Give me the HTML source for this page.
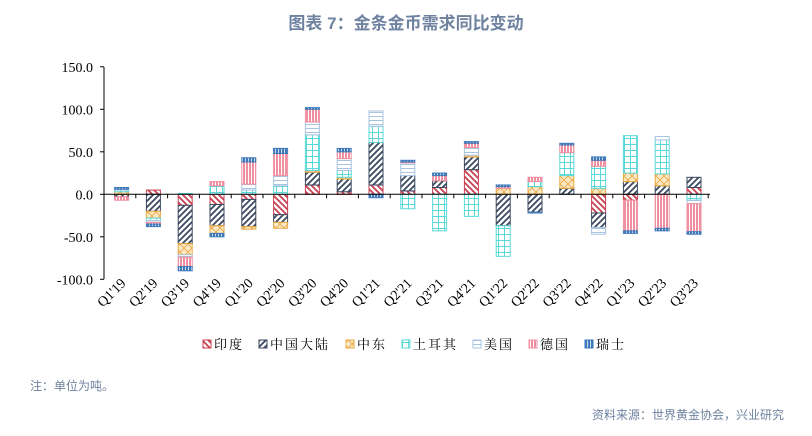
<!DOCTYPE html>
<html><head><meta charset="utf-8"><style>
body{margin:0;background:#fff;width:812px;height:436px;overflow:hidden}
svg{display:block}
</style></head><body>
<svg id="s" width="812" height="436" xmlns="http://www.w3.org/2000/svg">
<defs>
<pattern id="pIN" width="6" height="6" patternUnits="userSpaceOnUse"><rect width="6" height="6" fill="#fff"/><path d="M-1,-1 L7,7 M-4,2 L1,7 M2,-4 L7,1" stroke="#c8404f" stroke-width="1.8"/></pattern>
<pattern id="pCN" width="6" height="6" patternUnits="userSpaceOnUse"><rect width="6" height="6" fill="#fff"/><path d="M-1,7 L7,-1 M-4,4 L1,-1 M5,7 L7,5" stroke="#3a4860" stroke-width="1.8"/></pattern>
<pattern id="pME" width="8" height="8" patternUnits="userSpaceOnUse"><rect width="8" height="8" fill="#fbe9c6"/><path d="M0,0 L8,8 M8,0 L0,8" stroke="#e8a840" stroke-width="0.8"/></pattern>
<pattern id="pTR" width="6" height="6" patternUnits="userSpaceOnUse"><rect width="6" height="6" fill="#fff"/><path d="M0,0.5 H6 M0.5,0 V6" stroke="#5ad8d8" stroke-width="1"/></pattern>
<pattern id="pUS" width="6" height="4" patternUnits="userSpaceOnUse"><rect width="6" height="4" fill="#fff"/><path d="M0,0.5 H6" stroke="#a8c4e0" stroke-width="1"/></pattern>
<pattern id="pDE" width="3" height="6" patternUnits="userSpaceOnUse"><rect width="3" height="6" fill="#f08fa0"/><path d="M2.5,0 V6" stroke="#fff" stroke-width="1"/></pattern>
<pattern id="pSW" width="3" height="6" patternUnits="userSpaceOnUse"><rect width="3" height="6" fill="#3e78b8"/><path d="M2.5,0 V6" stroke="#cfe0f2" stroke-width="1"/></pattern>
</defs>
<text x="406" y="29" text-anchor="middle" font-family="Liberation Sans,Noto Sans CJK SC,sans-serif" font-size="17" font-weight="bold" fill="#6f83a0">图表 7：金条金币需求同比变动</text>
<g id="g"></g>
<text x="30" y="390" font-family="Liberation Sans,Noto Sans CJK SC,sans-serif" font-size="12" fill="#6f83a0">注：单位为吨。</text>
<text x="784" y="419" text-anchor="end" font-family="Liberation Sans,Noto Sans CJK SC,sans-serif" font-size="12" fill="#6f83a0">资料来源：世界黄金协会，兴业研究</text>
</svg>
<script>
var ids=["pIN","pCN","pME","pTR","pUS","pDE","pSW"];
var bc=["#c8404f","#3a4860","#e8a840","#5ad8d8","#a8c4e0","#f08fa0","#3e78b8"];
var names=["印度","中国大陆","中东","土耳其","美国","德国","瑞士"];
var labs=["Q1'19","Q2'19","Q3'19","Q4'19","Q1'20","Q2'20","Q3'20","Q4'20","Q1'21","Q2'21","Q3'21","Q4'21","Q1'22","Q2'22","Q3'22","Q4'22","Q1'23","Q2'23","Q3'23"];
// [IN,CN,ME,TR,US,DE,SW]
var d=[
[0,-3,3,2,1,-4,2],
[5,-20,-8,-3,-2,-2,-3],
[-13,-45,-13,1,-3,-11,-5],
[-12,-25,-9,10,0,5,-4],
[-6,-32,-3,5,7,26,5],
[-24,-9,-7,10,12,26,6],
[11,15,2,42,15,15,2],
[3,15,2,8,14,8,4],
[11,50,0,19,18,0,-4],
[4,18,0,-17,15,1,2],
[8,8,0,-43,0,6,3],
[29,15,2,-26,9,5,2],
[0,-37,7,-36,0,2,2],
[0,-21,9,6,0,5,-1],
[0,7,15,27,0,9,2],
[-22,-17,7,26,-8,7,4],
[-7,15,10,44,0,-36,-3],
[0,10,14,40,4,-40,-3],
[8,12,0,-7,-4,-33,-3]
];
var Z=194.3,K=0.85,x0=121.6,dx=31.8,w=14,h="";
function Y(v){return Z-v*K}
// axes
h+='<line x1="104" y1="67" x2="104" y2="279" stroke="#000"/>';
for(var v=-100;v<=150;v+=50){h+='<line x1="100" x2="104" y1="'+Y(v)+'" y2="'+Y(v)+'" stroke="#000"/>';
h+='<text x="93" y="'+(Y(v)+5)+'" text-anchor="end" font-family="Liberation Serif,serif" font-size="14">'+v.toFixed(1)+'</text>';}
for(var i=0;i<19;i++){var c=x0+i*dx,p=0,n=0;
for(var k=0;k<7;k++){var val=d[i][k];if(!val)continue;var y0,hh;
if(val>0){y0=Y(p+val);hh=val*K;p+=val}else{y0=Y(n);hh=-val*K;n+=val}
h+='<rect x="'+(c-w/2)+'" y="'+y0+'" width="'+w+'" height="'+hh+'" fill="url(#'+ids[k]+')" stroke="'+bc[k]+'" stroke-width="1"/>';}
h+='<text transform="translate('+(c+5)+',284) rotate(-45)" text-anchor="end" font-family="Liberation Serif,serif" font-size="14">'+labs[i]+'</text>';}
h+='<line x1="104" x2="710" y1="'+Z+'" y2="'+Z+'" stroke="#000"/>';
for(var i=0;i<=19;i++){var t=104+i*dx;h+='<line x1="'+t+'" x2="'+t+'" y1="'+Z+'" y2="'+(Z+4)+'" stroke="#000"/>';}
var lx=[203,259,346,402,473,529,585];
for(var k=0;k<7;k++){h+='<rect x="'+lx[k]+'" y="340" width="8" height="8" fill="url(#'+ids[k]+')" stroke="'+bc[k]+'"/>';
h+='<text x="'+(lx[k]+11)+'" y="349" font-family="Liberation Serif,Noto Serif CJK SC,serif" font-size="13" letter-spacing="2">'+names[k]+'</text>';}
document.getElementById("g").innerHTML=h;
</script>
</body></html>
